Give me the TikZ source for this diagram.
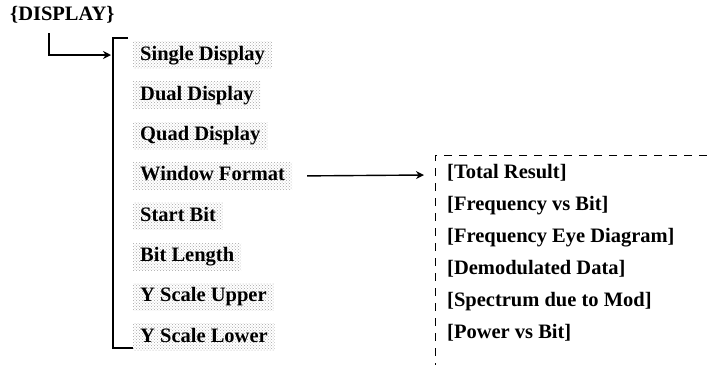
\documentclass[tikz,border=0pt]{standalone}
\usepackage{fontspec}
\setmainfont{Liberation Serif}
\usetikzlibrary{arrows.meta,positioning,calc,patterns}
\tikzset{
  menufont/.style={font=\bfseries\fontsize{20.5}{22}\selectfont},
  menuitem/.style={menufont,anchor=west,pattern=crosshatch dots,pattern color=gray!70,
    inner xsep=7pt,inner ysep=0pt,text height=15pt,text depth=5pt,minimum height=27pt},
  subitem/.style={menufont,anchor=west,inner sep=0pt,text height=14pt,text depth=4pt},
  conn/.style={line width=1.4pt,-{Stealth[length=8pt,width=8pt]}}
}

\begin{document}
\begin{tikzpicture}[x=1pt,y=-1pt]
  \useasboundingbox (0,0) rectangle (707,365);
  \node[menufont,anchor=west,inner sep=0pt] (disp) at (10,15) {\{DISPLAY\}};
  % key menu
  \foreach \t [count=\i from 0] in {Single Display,Dual Display,Quad Display,
      Window Format,Start Bit,Bit Length,Y Scale Upper,Y Scale Lower}
    \node[menuitem] (m\i) at (133,{55+40.3*\i}) {\t};
  \coordinate (dtop) at (49,33);
  \coordinate (din) at (111,55);
  \draw[conn] (dtop) |- (din);
  \draw[line width=1.5pt] (128,38) -- (113,38) -- (113,348) -- (m7.west |- 0,348);
  % window format choices
  \foreach \t [count=\i from 0] in {[Total Result],[Frequency vs Bit],
      [Frequency Eye Diagram],[Demodulated Data],[Spectrum due to Mod],[Power vs Bit]}
    \node[subitem] (w\i) at (447,{173+32*\i}) {\t};
  \coordinate (win) at (424,175);
  \draw[conn] ([xshift=15pt]m3.east) -- (win);
  \draw[line width=1pt,dash pattern=on 8pt off 7pt] (707,155) -- (435,155) -- (435,365);
\end{tikzpicture}
\end{document}
